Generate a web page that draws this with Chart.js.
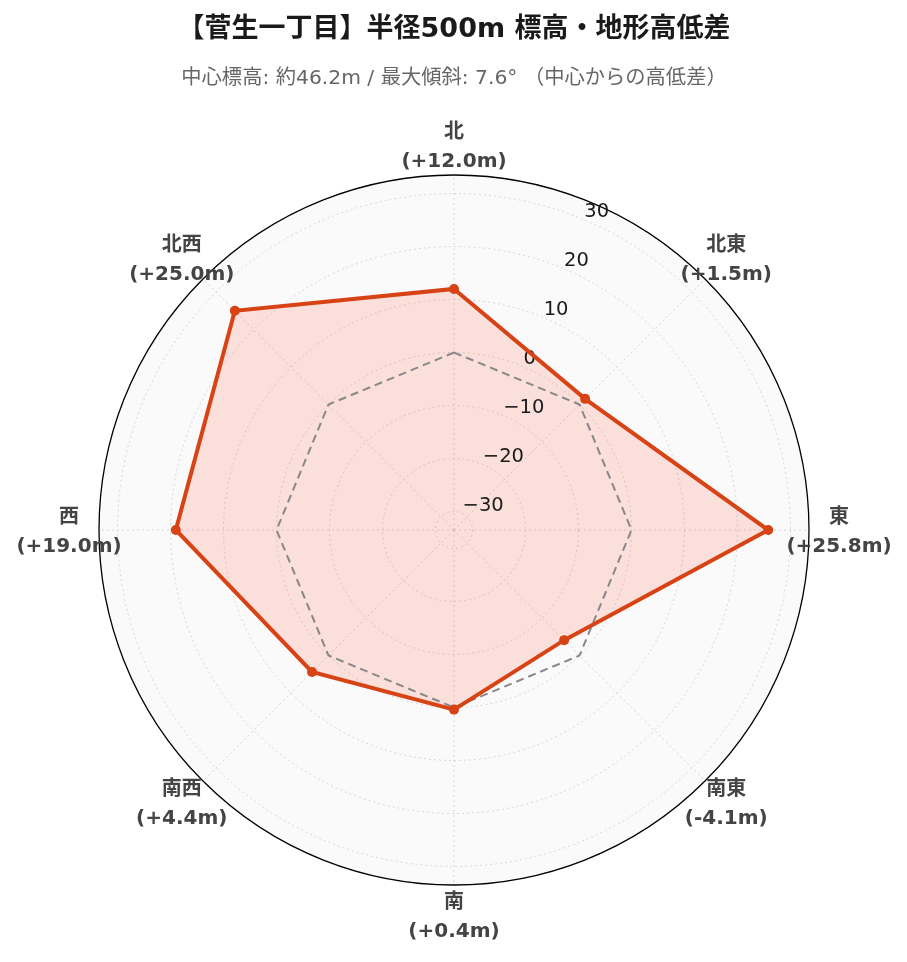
<!DOCTYPE html>
<html>
<head>
<meta charset="utf-8">
<script src="https://cdn.jsdelivr.net/npm/chart.js@4.4.1/dist/chart.umd.min.js"></script>
<style>
  html, body { margin: 0; padding: 0; background: #fff; }
  #wrap { width: 907px; height: 962px; position: relative; }
</style>
</head>
<body>
<div id="wrap"><canvas id="radarChart"></canvas></div>
<script>
// data
const directions = ['北', '北東', '東', '南東', '南', '南西', '西', '北西'];
const heightDiff = [12.0, 1.5, 25.8, -4.1, 0.4, 4.4, 19.0, 25.0];
const baseline = [0, 0, 0, 0, 0, 0, 0, 0];
const radialTicks = [-30, -20, -10, 0, 10, 20, 30];
const rMin = -33.5;
const rMax = 33.5;

const titleText = '【菅生一丁目】半径500m 標高・地形高低差';
const subtitleText = '中心標高: 約46.2m / 最大傾斜: 7.6° （中心からの高低差）';

const fontFamily = "'DejaVu Sans', 'Noto Sans CJK JP', sans-serif";

const valueLabels = heightDiff.map(v => '(' + (v >= 0 ? '+' : '') + v.toFixed(1) + 'm)');

// polar background + outer ring
const polarBg = {
    id: 'polarBg',
    beforeDraw(chart) {
        const s = chart.scales.r;
        const ctx = chart.ctx;
        ctx.save();
        ctx.beginPath();
        ctx.arc(s.xCenter, s.yCenter, s.drawingArea, 0, Math.PI * 2);
        ctx.fillStyle = '#fafafa';
        ctx.fill();
        ctx.lineWidth = 1.3;
        ctx.strokeStyle = '#000';
        ctx.stroke();
        ctx.restore();
    }
};

// radial tick labels along the 22.5deg line
const tickLabels = {
    id: 'tickLabels',
    beforeDatasetsDraw(chart) {
        const s = chart.scales.r;
        const ctx = chart.ctx;
        const a = Math.PI / 8;
        ctx.save();
        ctx.font = '19.5px ' + fontFamily;
        ctx.fillStyle = '#1a1a1a';
        ctx.textAlign = 'left';
        ctx.textBaseline = 'middle';
        radialTicks.forEach(v => {
            const d = s.getDistanceFromCenterForValue(v);
            const x = s.xCenter + d * Math.sin(a);
            const y = s.yCenter - d * Math.cos(a);
            ctx.fillText(String(v).replace('-', '\u2212'), x + 1.5, y - 7);
        });
        ctx.restore();
    }
};

// two-line direction labels
const dirLabels = {
    id: 'dirLabels',
    afterDraw(chart) {
        const s = chart.scales.r;
        const ctx = chart.ctx;
        ctx.save();
        ctx.font = 'bold 20px ' + fontFamily;
        ctx.fillStyle = '#444';
        ctx.textAlign = 'center';
        ctx.textBaseline = 'middle';
        directions.forEach((name, i) => {
            const p = s.getPointPosition(i, s.drawingArea + 30);
            ctx.fillText(name, p.x, p.y - 12);
            ctx.fillText(valueLabels[i], p.x, p.y + 17);
        });
        ctx.restore();
    }
};

const config = {
    type: 'radar',
    data: {
        labels: directions,
        datasets: [
            {
                label: '高低差',
                data: heightDiff,
                borderColor: '#d84315',
                backgroundColor: 'rgba(250,100,70,0.18)',
                borderWidth: 4,
                pointRadius: 5,
                pointBackgroundColor: '#d84315',
                pointBorderColor: '#d84315',
                pointBorderWidth: 0,
                fill: 'start'
            },
            {
                label: '中心',
                data: baseline,
                borderColor: '#888',
                borderWidth: 2,
                borderDash: [8, 5],
                pointRadius: 0,
                fill: false
            }
        ]
    },
    options: {
        responsive: true,
        maintainAspectRatio: false,
        animation: false,
        layout: {
            padding: { left: 1, right: 0, top: 0, bottom: 76 }
        },
        scales: {
            r: {
                min: rMin,
                max: rMax,
                ticks: { display: false, stepSize: 10 },
                pointLabels: { display: false },
                grid: {
                    circular: true,
                    lineWidth: 1,
                    color: c => radialTicks.includes(c.tick.value) ? '#d6d6d6' : 'rgba(0,0,0,0)'
                },
                border: { dash: [2, 3] },
                angleLines: {
                    color: '#d6d6d6',
                    lineWidth: 1,
                    borderDash: [2, 3]
                }
            }
        },
        plugins: {
            legend: { display: false },
            tooltip: { enabled: false },
            filler: { drawTime: 'beforeDatasetsDraw' },
            title: {
                display: true,
                text: titleText,
                color: '#1a1a1a',
                font: { size: 27, weight: 'bold', family: fontFamily },
                padding: { top: 13.8, bottom: 10 }
            },
            subtitle: {
                display: true,
                text: subtitleText,
                color: '#666',
                font: { size: 20.3, family: fontFamily },
                padding: { top: 10.8, bottom: 83.6 }
            }
        }
    },
    plugins: [polarBg, tickLabels, dirLabels]
};

const radarChart = new Chart(document.getElementById('radarChart'), config);
</script>
</body>
</html>
